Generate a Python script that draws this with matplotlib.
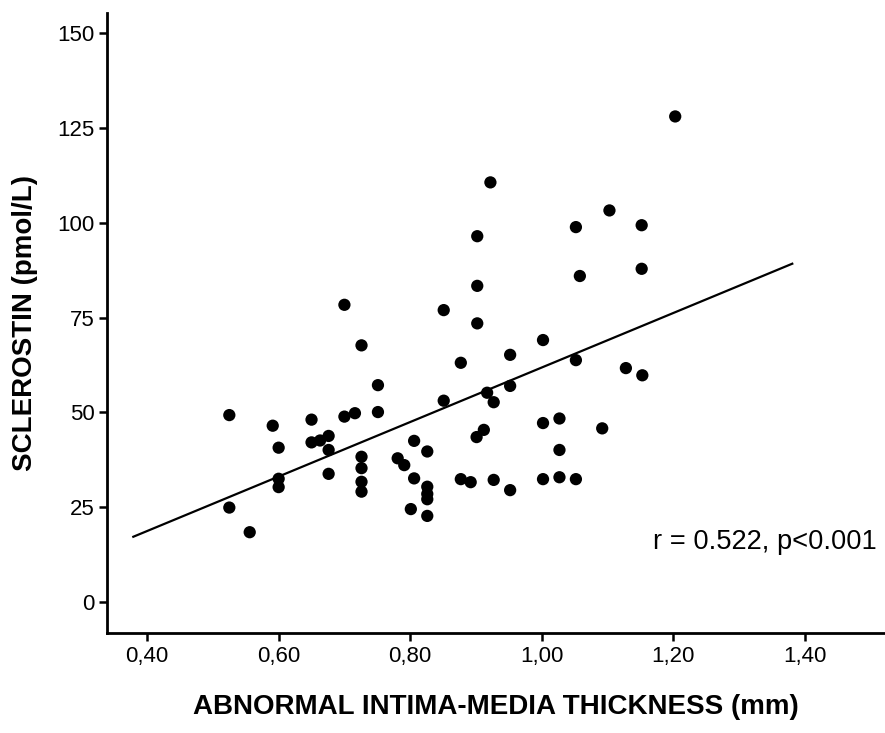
import numpy as np
import matplotlib
matplotlib.use("Agg")
import matplotlib.pyplot as plt
from matplotlib.ticker import FuncFormatter

plt.rcParams["font.family"] = ["Liberation Sans", "DejaVu Sans"]

# Abnormal intima-media thickness (mm) vs sclerostin (pmol/L)
imt = [0.700, 0.851, 0.726, 0.751, 0.851, 0.525, 0.650, 0.700, 0.716, 0.751,
       0.591, 0.600, 0.650, 0.663, 0.676, 0.676, 0.676, 0.726, 0.726, 0.726,
       0.726, 0.600, 0.600, 0.525, 0.556, 0.781, 0.791, 0.806, 0.826, 0.806,
       0.826, 0.826, 0.826, 0.801, 0.826, 0.922, 0.902, 1.052, 1.103, 1.152,
       0.902, 1.058, 1.152, 0.902, 1.002, 0.877, 0.952, 1.052, 1.128, 1.153,
       0.917, 0.927, 0.952, 0.912, 0.901, 1.002, 1.027, 1.092, 1.027, 0.877,
       0.892, 0.927, 0.952, 1.002, 1.027, 1.052, 1.203]
sclerostin = [78.4, 77.0, 67.7, 57.2, 53.1, 49.3, 48.1, 48.9, 49.8, 50.1,
              46.5, 40.7, 42.1, 42.6, 43.8, 40.1, 33.8, 38.3, 35.3, 31.7,
              29.1, 32.5, 30.3, 24.9, 18.4, 37.9, 36.1, 42.5, 39.7, 32.6,
              30.4, 28.5, 27.1, 24.5, 22.7, 110.7, 96.5, 98.9, 103.3, 99.4,
              83.4, 86.0, 87.9, 73.5, 69.1, 63.1, 65.2, 63.8, 61.7, 59.8,
              55.2, 52.7, 57.0, 45.4, 43.5, 47.2, 48.4, 45.8, 40.1, 32.4,
              31.6, 32.2, 29.5, 32.4, 32.9, 32.4, 128.1]

# linear fit line as drawn in the figure
fit_range = [0.379, 1.381]
fit_intercept = -10.05
fit_slope = 71.9

x_ticks = [0.4, 0.6, 0.8, 1.0, 1.2, 1.4]
y_ticks = [0, 25, 50, 75, 100, 125, 150]

fig = plt.figure(figsize=(8.85, 7.33), dpi=100)
ax = fig.add_axes([0.1209, 0.1364, 0.8791, 0.8459])

ax.scatter(imt, sclerostin, s=78, color="black", edgecolors="none", zorder=3)

fx = np.array(fit_range)
ax.plot(fx, fit_intercept + fit_slope * fx, color="black", lw=1.6, zorder=2)

ax.set_xlim(0.339, 1.522)
ax.set_ylim(-8.2, 155.4)
ax.set_xticks(x_ticks)
ax.set_yticks(y_ticks)
ax.xaxis.set_major_formatter(FuncFormatter(lambda v, p: f"{v:.2f}".replace(".", ",")))

for side in ["top", "right"]:
    ax.spines[side].set_visible(False)
for side in ["left", "bottom"]:
    ax.spines[side].set_linewidth(2.0)
ax.tick_params(axis="both", direction="out", length=6, width=1.8, labelsize=16, pad=3)

ax.set_xlabel("ABNORMAL INTIMA-MEDIA THICKNESS (mm)", fontsize=20, fontweight="bold", labelpad=20)
ax.set_ylabel("SCLEROSTIN (pmol/L)", fontsize=20, fontweight="bold", labelpad=14)

ax.text(1.510, 15.8, "r = 0.522, p<0.001", fontsize=19.6, ha="right", va="center")

fig.savefig("out.png", dpi=100, facecolor="white")
